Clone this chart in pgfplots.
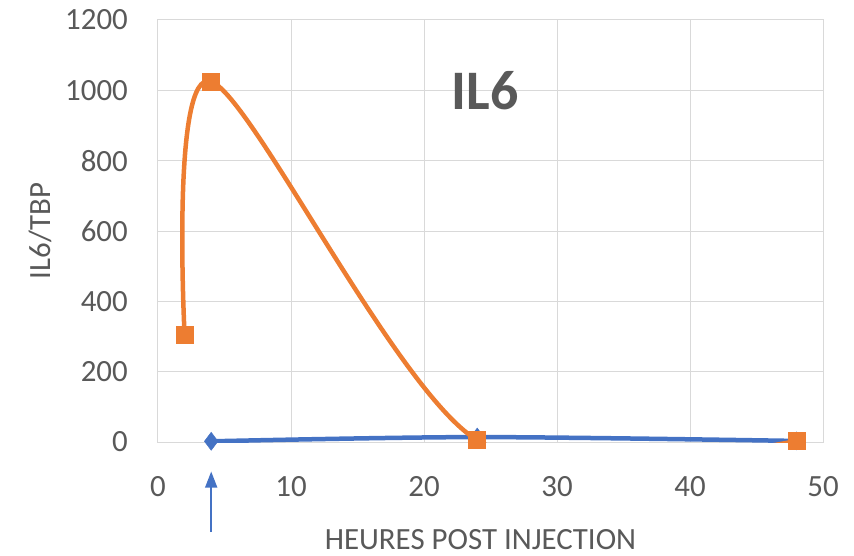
\documentclass[border=0pt]{standalone}
\usepackage{pgfplots}
\pgfplotsset{compat=1.18}
\usepackage{fontspec}
\setmainfont{Carlito}
\usetikzlibrary{arrows.meta}
\definecolor{orng}{HTML}{ED7D31}
\definecolor{blu}{HTML}{4472C4}
\definecolor{txt}{HTML}{595959}
\definecolor{grd}{HTML}{D9D9D9}
\begin{document}
\begin{tikzpicture}
\begin{axis}[
  scale only axis, width=665bp, height=422bp,
  xmin=0, xmax=50, ymin=0, ymax=1200,
  xtick={0,10,...,50}, ytick={0,200,...,1200},
  grid=major, grid style={grd, line width=1bp},
  axis line style={grd, line width=1bp},
  major tick length=0pt,
  tick label style={txt, font=\fontsize{31}{36}\selectfont, inner sep=0pt},
  /pgf/number format/assume math mode=true,
  /pgf/number format/1000 sep={},
  xticklabel style={anchor=north, yshift=-34bp},
  yticklabel style={anchor=east, xshift=-30bp},
  xlabel={HEURES POST INJECTION},
  xlabel style={at={(axis description cs:0.485,0)}, anchor=base, yshift=-107bp, inner sep=0pt, txt, font=\fontsize{31}{36}\selectfont},
  ylabel={IL6/TBP},
  ylabel style={at={(axis description cs:0,0.5)}, anchor=center, yshift=118bp, inner sep=0pt, txt, font=\fontsize{31}{36}\selectfont},
]
\addplot[blu, line width=4.5bp, smooth, mark=diamond*, mark size=9bp, mark options={fill=blu, draw=blu, line width=0.5bp}] coordinates {(4,2) (24,14) (48,3)};
\addplot[orng, line width=4.5bp, smooth, mark=square*, mark size=8.5bp, mark options={fill=orng, draw=orng, line width=0.5bp}] coordinates {(2,305) (4,1025) (24,5) (48,3)};
\node[txt, font=\fontsize{56}{60}\selectfont\bfseries] at (axis cs:24.6,1000) {IL6};
\coordinate (a1) at (axis cs:4,-256);
\coordinate (a2) at (axis cs:4,-84);
\coordinate (sw) at (rel axis cs:0,0);
\coordinate (ne) at (rel axis cs:1,1);
\end{axis}
\draw[blu, line width=1.6bp, -{Triangle[length=16bp,width=12bp]}] (a1) -- (a2);
\path ([shift={(-158bp,-113bp)}]sw) rectangle ([shift={(31bp,20bp)}]ne);
\end{tikzpicture}
\end{document}
